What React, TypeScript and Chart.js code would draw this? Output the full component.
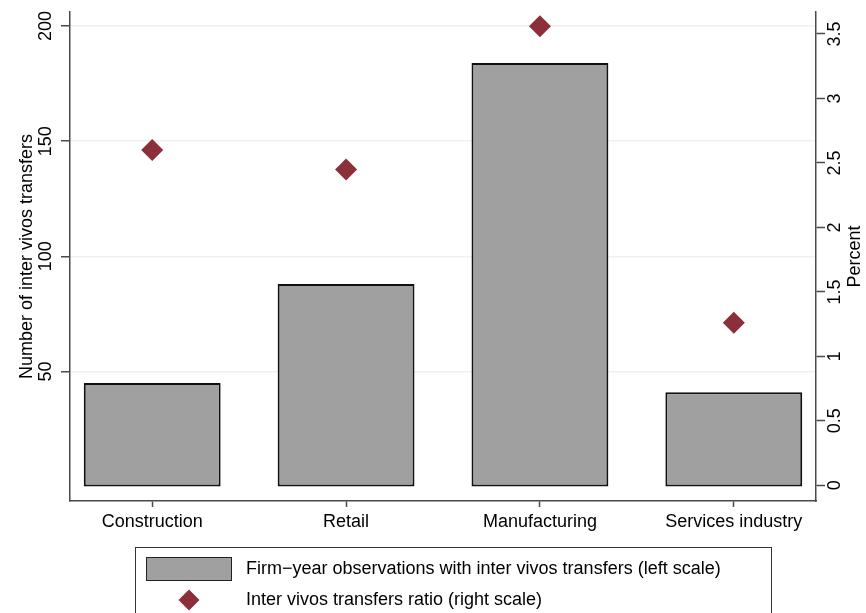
import React, { useEffect, useRef } from 'react';
import { Chart, registerables } from 'chart.js';

Chart.register(...registerables);

// ---- data ----
const categories = ['Construction', 'Retail', 'Manufacturing', 'Services industry'];
const categoryPositions = [1, 2, 3, 4];
const observations = [45, 88, 184, 41];
const transferRatio = [2.6, 2.45, 3.56, 1.26];
const leftTicks = [50, 100, 150, 200];
const rightTicks = [0, 0.5, 1, 1.5, 2, 2.5, 3, 3.5];
const barLabel = 'Firm\u2212year observations with inter vivos transfers (left scale)';
const ratioLabel = 'Inter vivos transfers ratio (right scale)';
const leftTitle = 'Number of inter vivos transfers';
const rightTitle = 'Percent';

const FONT = "'Liberation Sans', Arial, Helvetica, sans-serif";
const BAR_FILL = '#a0a0a0';
const BAR_BORDER = '#111111';
const DIAMOND = '#8b2f3a';
const AXIS = '#4a4a4a';
const GRID = '#eaf2f3';

const stataExtras = {
  id: 'stataExtras',
  afterDraw(chart: any) {
    const ctx = chart.ctx as CanvasRenderingContext2D;
    const area = chart.chartArea;
    const ds = chart.data.datasets;
    ctx.save();
    // right axis title, reading bottom-to-top
    ctx.font = `18px ${FONT}`;
    ctx.fillStyle = '#000';
    ctx.textAlign = 'center';
    ctx.textBaseline = 'middle';
    ctx.translate(855.5, (area.top + area.bottom) / 2);
    ctx.rotate(-Math.PI / 2);
    ctx.fillText(rightTitle, 0, 0);
    ctx.restore();

    // legend box
    ctx.save();
    ctx.strokeStyle = '#333';
    ctx.lineWidth = 1;
    ctx.strokeRect(135.5, 547.5, 636, 90);
    // bar swatch
    ctx.fillStyle = ds[0].backgroundColor;
    ctx.fillRect(146, 557, 86, 24);
    ctx.strokeStyle = '#222';
    ctx.lineWidth = 1;
    ctx.strokeRect(146.5, 557.5, 85, 23);
    // diamond swatch
    const cx = 189;
    const cy = 600;
    const r = 10.5;
    ctx.beginPath();
    ctx.moveTo(cx - r, cy);
    ctx.lineTo(cx, cy - r);
    ctx.lineTo(cx + r, cy);
    ctx.lineTo(cx, cy + r);
    ctx.closePath();
    ctx.fillStyle = ds[1].pointBackgroundColor;
    ctx.fill();
    // texts
    ctx.fillStyle = '#000';
    ctx.font = `18px ${FONT}`;
    ctx.textAlign = 'left';
    ctx.textBaseline = 'middle';
    ctx.fillText(ds[0].label, 246, 569);
    ctx.fillText(ds[1].label, 246, 600);
    ctx.restore();
  },
};

export default function App() {
  const canvasRef = useRef<HTMLCanvasElement | null>(null);

  useEffect(() => {
    const canvas = canvasRef.current;
    if (!canvas) return;
    Chart.defaults.font.family = FONT;
    Chart.defaults.font.size = 18;
    Chart.defaults.color = '#000';

    const chart = new Chart(canvas, {
      type: 'bar',
      data: {
        datasets: [
          {
            type: 'bar',
            label: barLabel,
            data: categoryPositions.map((x, i) => ({ x, y: observations[i] })),
            backgroundColor: BAR_FILL,
            borderColor: BAR_BORDER,
            borderWidth: 2,
            borderSkipped: false,
            barPercentage: 0.706,
            categoryPercentage: 1,
            xAxisID: 'x',
            yAxisID: 'y',
          } as any,
          {
            type: 'scatter',
            label: ratioLabel,
            data: categoryPositions.map((x, i) => ({ x, y: transferRatio[i] })),
            pointStyle: 'rectRot',
            pointRadius: 11,
            pointBackgroundColor: DIAMOND,
            backgroundColor: DIAMOND,
            pointBorderWidth: 0,
            borderWidth: 0,
            showLine: false,
            xAxisID: 'x',
            yAxisID: 'y1',
          } as any,
        ],
      },
      options: {
        responsive: false,
        animation: false,
        devicePixelRatio: 1,
        events: [],
        layout: { padding: { top: 12, bottom: 72, left: 0, right: 0 } },
        plugins: {
          legend: { display: false },
          tooltip: { enabled: false },
        },
        scales: {
          x: {
            type: 'linear',
            position: 'bottom',
            offset: false,
            min: 0.576,
            max: 4.424,
            afterBuildTicks: (s: any) => {
              s.ticks = categoryPositions.map((v) => ({ value: v }));
            },
            afterFit: (s: any) => {
              s.height = 40;
              s.paddingLeft = 0;
              s.paddingRight = 0;
            },
            ticks: {
              autoSkip: false,
              minRotation: 0,
              maxRotation: 0,
              padding: 4,
              color: '#000',
              font: { size: 18 },
              callback: (v: any) => {
                const i = categoryPositions.indexOf(Number(v));
                return i >= 0 ? categories[i] : '';
              },
            },
            grid: {
              offset: false,
              drawOnChartArea: false,
              drawTicks: true,
              tickLength: 6,
              tickColor: AXIS,
              tickWidth: 1.5,
            },
            border: { display: true, color: AXIS, width: 1.5 },
          },
          y: {
            type: 'linear',
            position: 'left',
            min: -6.25,
            max: 206.1,
            afterBuildTicks: (s: any) => {
              s.ticks = leftTicks.map((v) => ({ value: v }));
            },
            afterFit: (s: any) => {
              s.width = 70;
              s.paddingTop = 0;
              s.paddingBottom = 0;
            },
            ticks: {
              autoSkip: false,
              minRotation: 90,
              maxRotation: 90,
              crossAlign: 'center',
              padding: 0,
              color: '#000',
              font: { size: 18 },
              callback: (v: any) => String(v),
            },
            grid: {
              color: GRID,
              lineWidth: 1.5,
              drawTicks: true,
              tickLength: 9,
              tickColor: AXIS,
              tickWidth: 1.5,
            },
            border: { display: true, color: AXIS, width: 1.5 },
            title: {
              display: true,
              text: leftTitle,
              color: '#000',
              font: { size: 18 },
              padding: { top: 16, bottom: 0 },
            },
          },
          y1: {
            type: 'linear',
            position: 'right',
            min: -0.1218,
            max: 3.6706,
            afterBuildTicks: (s: any) => {
              s.ticks = rightTicks.map((v) => ({ value: v }));
            },
            afterFit: (s: any) => {
              s.width = 50;
              s.paddingTop = 0;
              s.paddingBottom = 0;
            },
            ticks: {
              autoSkip: false,
              minRotation: 90,
              maxRotation: 90,
              crossAlign: 'center',
              padding: -2,
              color: '#000',
              font: { size: 18 },
              callback: (v: any) => String(v),
            },
            grid: {
              drawOnChartArea: false,
              drawTicks: true,
              tickLength: 9,
              tickColor: AXIS,
              tickWidth: 1.5,
            },
            border: { display: true, color: AXIS, width: 1.5 },
          },
        },
      } as any,
      plugins: [stataExtras],
    });

    return () => {
      chart.destroy();
    };
  }, []);

  return (
    <div style={{ position: 'absolute', left: 0, top: 0, width: 866, height: 613, background: '#fff', overflow: 'hidden' }}>
      <canvas ref={canvasRef} width={866} height={613} style={{ display: 'block' }} />
    </div>
  );
}
